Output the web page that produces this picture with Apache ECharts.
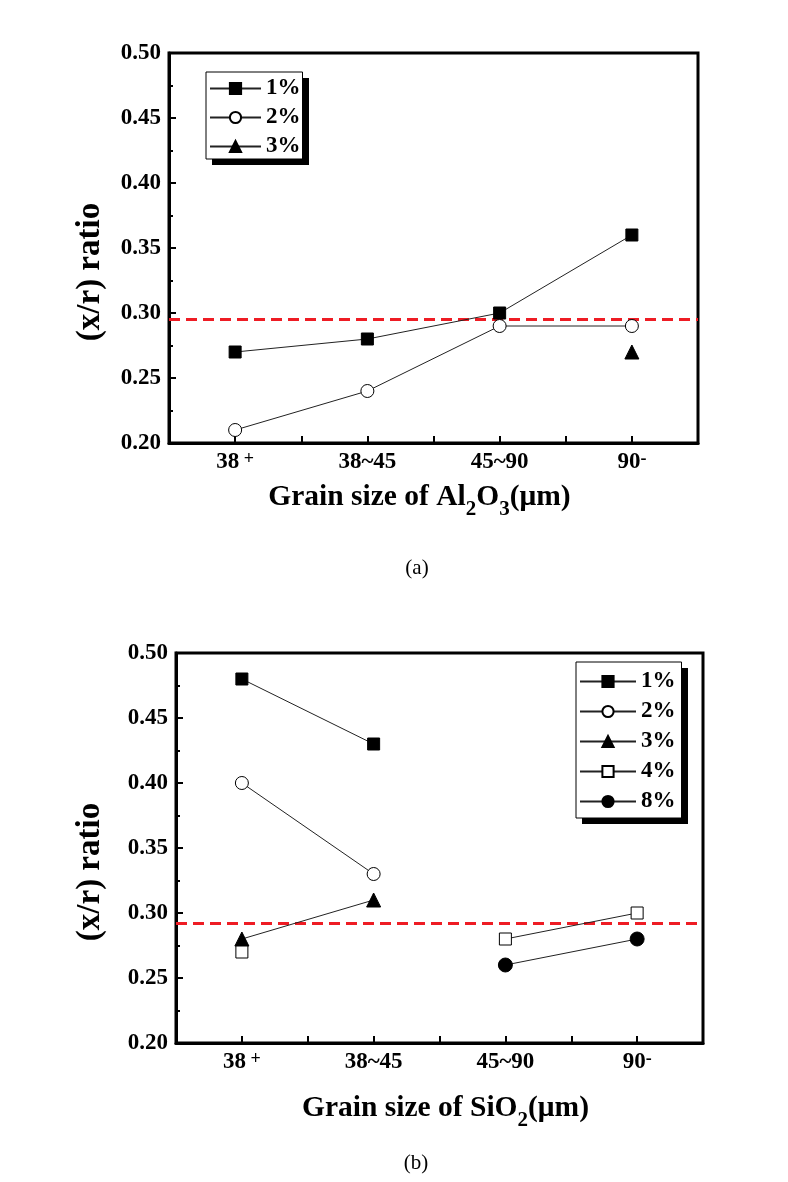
<!DOCTYPE html>
<html><head><meta charset="utf-8">
<script src="https://cdn.jsdelivr.net/npm/echarts@6/dist/echarts.min.js"></script>
<style>html,body{margin:0;padding:0;background:#fff}#c{width:788px;height:1182px}</style>
</head><body><div id="c"></div>
<script>
// ---- data ----
const categories = ['38', '38~45', '45~90', '90'];
const categorySup = ['+', '', '', '-'];
const yTickMin = 0.20, yTickMax = 0.50, yTickStep = 0.05;
// (a) Al2O3
const a1 = [0.27, 0.28, 0.30, 0.36];
const a2 = [0.21, 0.24, 0.29, 0.29];
const a3 = [null, null, null, 0.27];
const refA = 0.295;
// (b) SiO2
const b1 = [0.48, 0.43, null, null];
const b2 = [0.40, 0.33, null, null];
const b3 = [0.28, 0.31, null, null];
const b4 = [0.27, null, 0.28, 0.30];
const b8 = [null, null, 0.26, 0.28];
const refB = 0.292;

// ---- styles ----
const FONT = '"Liberation Serif", "Times New Roman", serif';
const sty = {
  '1%': {symbol: 'rect', size: 12, fill: '#000'},
  '2%': {symbol: 'circle', size: 13, fill: '#fff'},
  '3%': {symbol: 'triangle', size: 14, fill: '#000'},
  '4%': {symbol: 'rect', size: 12, fill: '#fff'},
  '8%': {symbol: 'circle', size: 14, fill: '#000'}
};
function mk(name, vals, idx, ref) {
  const s = sty[name];
  const ser = {
    type: 'line', name: name, xAxisIndex: idx, yAxisIndex: idx,
    data: vals.map((v, i) => [i, v == null ? '-' : v]),
    symbol: s.symbol, symbolSize: s.size, showAllSymbol: true,
    itemStyle: {color: s.fill, borderColor: '#000', borderWidth: 1},
    lineStyle: {color: '#222', width: 1},
    connectNulls: false, z: 5
  };
  if (ref != null) {
    ser.markLine = {
      silent: true, symbol: ['none', 'none'], label: {show: false}, precision: 4,
      lineStyle: {color: '#ee1c24', width: 3, type: [11, 6]},
      data: [{yAxis: ref}], z: 3
    };
  }
  return ser;
}
function xLabel(v) {
  const r = Math.round(v);
  if (Math.abs(v - r) > 1e-6 || r < 0 || r >= categories.length) return '';
  const sup = categorySup[r];
  return '{n|' + categories[r] + '}' + (sup ? '{s|' + (sup === '+' ? ' ' : '') + sup + '}' : '');
}
const xRich = {
  n: {fontFamily: FONT, fontWeight: 'bold', fontSize: 23, color: '#000', lineHeight: 24, verticalAlign: 'bottom', padding: [2, 0, 0, 0]},
  s: {fontFamily: FONT, fontWeight: 'bold', fontSize: 18, color: '#000', lineHeight: 12, verticalAlign: 'top'}
};
const nameRich = {
  m: {fontFamily: FONT, fontWeight: 'bold', fontSize: 29.5, color: '#000', lineHeight: 30, verticalAlign: 'top'},
  s: {fontFamily: FONT, fontWeight: 'bold', fontSize: 21, color: '#000', lineHeight: 21, verticalAlign: 'top', padding: [17, 0, 0, 0]}
};
function xAxis(idx, name, gap, pad) {
  return {
    type: 'value', gridIndex: idx, min: -0.5, max: 3.5, interval: 0.5,
    axisLine: {show: true, onZero: false, lineStyle: {color: '#000', width: 3}},
    axisTick: {show: true, inside: true, length: 7, lineStyle: {color: '#000', width: 2}},
    splitLine: {show: false},
    axisLabel: {margin: 7, formatter: xLabel, rich: xRich},
    name: name, nameLocation: 'middle', nameGap: gap,
    nameTextStyle: {rich: nameRich, padding: pad}
  };
}
function yAxis(idx) {
  return {
    type: 'value', gridIndex: idx, min: yTickMin, max: yTickMax, interval: yTickStep,
    axisLine: {show: true, onZero: false, lineStyle: {color: '#000', width: 3}},
    axisTick: {show: true, inside: true, length: 7, lineStyle: {color: '#000', width: 2}},
    minorTick: {show: true, splitNumber: 2, length: 4, lineStyle: {color: '#000', width: 2}},
    splitLine: {show: false}, minorSplitLine: {show: false},
    axisLabel: {margin: 8, formatter: v => v.toFixed(2), fontFamily: FONT, fontWeight: 'bold', fontSize: 23, color: '#000'}
  };
}
function legend(names, left, top, w, gap, pad) {
  return {
    data: names, orient: 'vertical', left: left, top: top, z: 10,
    itemWidth: w, itemHeight: 14, itemGap: gap,
    padding: pad,
    borderColor: '#000', borderWidth: 1, borderRadius: 0, backgroundColor: '#fff',
    selectedMode: false,
    textStyle: {fontFamily: FONT, fontWeight: 'bold', fontSize: 23, color: '#000'}
  };
}
const chart = echarts.init(document.getElementById('c'), null, {renderer: 'canvas'});
chart.setOption({
  animation: false,
  backgroundColor: '#fff',
  grid: [
    {left: 169, top: 53, width: 529, height: 390, show: true, borderColor: '#000', borderWidth: 3, backgroundColor: 'transparent'},
    {left: 176, top: 653, width: 527, height: 390, show: true, borderColor: '#000', borderWidth: 3, backgroundColor: 'transparent'}
  ],
  xAxis: [
    xAxis(0, '{m|Grain size of Al}{s|2}{m|O}{s|3}{m|(\u03bcm)}', 39, [0, 28, 0, 0]),
    xAxis(1, '{m|Grain size of SiO}{s|2}{m|(\u03bcm)}', 50, [0, 0, 0, 12])
  ],
  yAxis: [yAxis(0), yAxis(1)],
  legend: [
    legend(['1%', '2%', '3%'], 206, 72, 51, 6, [5, 2, 1, 3]),
    legend(['1%', '2%', '3%', '4%', '8%'], 576, 662, 56, 7, [8, 6, 5, 3])
  ],
  graphic: [
    // legend drop shadows
    {type: 'rect', z: 1, silent: true, shape: {x: 212, y: 78, width: 97, height: 87}, style: {fill: '#000'}},
    {type: 'rect', z: 1, silent: true, shape: {x: 582, y: 668, width: 106, height: 156}, style: {fill: '#000'}},
    {type: 'text', x: 90, y: 272, rotation: Math.PI / 2,
     style: {text: '(x/r) ratio', font: 'bold 33px ' + FONT, fill: '#000', align: 'center', verticalAlign: 'middle', textAlign: 'center', textVerticalAlign: 'middle'}},
    {type: 'text', x: 90, y: 872, rotation: Math.PI / 2,
     style: {text: '(x/r) ratio', font: 'bold 33px ' + FONT, fill: '#000', align: 'center', verticalAlign: 'middle', textAlign: 'center', textVerticalAlign: 'middle'}},
    {type: 'text', x: 417, y: 568,
     style: {text: '(a)', font: '21px ' + FONT, fill: '#000', align: 'center', verticalAlign: 'middle', textAlign: 'center', textVerticalAlign: 'middle'}},
    {type: 'text', x: 416, y: 1163,
     style: {text: '(b)', font: '21px ' + FONT, fill: '#000', align: 'center', verticalAlign: 'middle', textAlign: 'center', textVerticalAlign: 'middle'}}
  ],
  series: [
    mk('1%', a1, 0, refA), mk('2%', a2, 0), mk('3%', a3, 0),
    mk('1%', b1, 1, refB), mk('2%', b2, 1), mk('3%', b3, 1), mk('4%', b4, 1), mk('8%', b8, 1)
  ]
});
</script>
</body></html>
